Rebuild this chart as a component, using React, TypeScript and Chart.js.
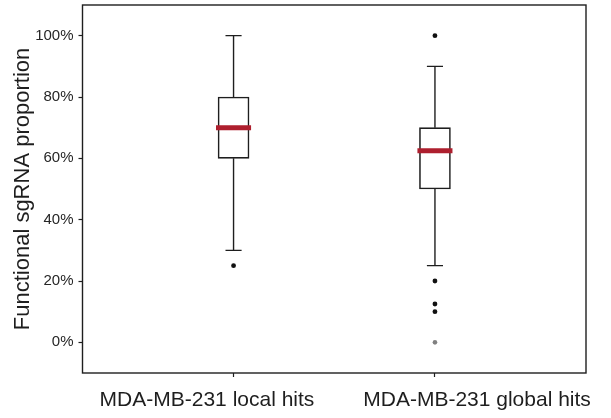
import { useEffect, useRef } from 'react';
import { Chart, registerables } from 'chart.js';

Chart.register(...registerables);

const categories = ['MDA-MB-231 local hits', 'MDA-MB-231 global hits'];
const positions = [1, 2];
const whiskerLow = [30, 25];
const q1 = [60, 50];
const median = [70, 62.5];
const q3 = [80, 70];
const whiskerHigh = [100, 90];
const outliers = [[25], [100, 20, 12.5, 10, 0]];
const faintOutliers = [[], [0]];
const yTicks = [0, 20, 40, 60, 80, 100];
const labelPositions = [0.868, 2.209];

const FONT = "'Liberation Sans', Arial, Helvetica, sans-serif";
const INK = '#1e1e1e';

const zeroPad = (s: any) => {
  s.paddingTop = 0;
  s.paddingBottom = 0;
  s.paddingLeft = 0;
  s.paddingRight = 0;
};

export default function App() {
  const ref = useRef<HTMLCanvasElement | null>(null);

  useEffect(() => {
    if (!ref.current) return;
    const capHalf = 0.04;
    const medHalf = 0.087;

    const whiskerData: any[] = [];
    const capData: any[] = [];
    const medianData: any[] = [];
    const outlierData: any[] = [];
    const faintData: any[] = [];
    positions.forEach((p, i) => {
      whiskerData.push({ x: p, y: q3[i] }, { x: p, y: whiskerHigh[i] }, { x: p, y: null });
      whiskerData.push({ x: p, y: q1[i] }, { x: p, y: whiskerLow[i] }, { x: p, y: null });
      capData.push({ x: p - capHalf, y: whiskerHigh[i] }, { x: p + capHalf, y: whiskerHigh[i] }, { x: p, y: null });
      capData.push({ x: p - capHalf, y: whiskerLow[i] }, { x: p + capHalf, y: whiskerLow[i] }, { x: p, y: null });
      medianData.push({ x: p - medHalf, y: median[i] }, { x: p + medHalf, y: median[i] }, { x: p, y: null });
      outliers[i].forEach((v) => {
        if (faintOutliers[i].includes(v)) faintData.push({ x: p, y: v });
        else outlierData.push({ x: p, y: v });
      });
    });

    const framePlugin = {
      id: 'frame',
      afterDatasetsDraw(chart: any) {
        const { ctx, chartArea } = chart;
        ctx.save();
        ctx.strokeStyle = INK;
        ctx.lineWidth = 1.4;
        ctx.strokeRect(chartArea.left, chartArea.top, chartArea.right - chartArea.left, chartArea.bottom - chartArea.top);
        ctx.restore();
      },
    };

    const chart = new Chart(ref.current, {
      type: 'scatter',
      data: {
        datasets: [
          {
            type: 'bar',
            data: positions.map((p, i) => ({ x: p, y: [q1[i], q3[i]] })) as any,
            backgroundColor: '#ffffff',
            borderColor: INK,
            borderWidth: 1.6,
            borderSkipped: false,
            barThickness: 31,
            order: 2,
          } as any,
          {
            type: 'line',
            data: whiskerData,
            borderColor: INK,
            borderWidth: 1.4,
            pointRadius: 0,
            spanGaps: false,
            showLine: true,
            tension: 0,
            order: 3,
          },
          {
            type: 'line',
            data: capData,
            borderColor: INK,
            borderWidth: 1.4,
            pointRadius: 0,
            spanGaps: false,
            showLine: true,
            tension: 0,
            order: 3,
          },
          {
            type: 'line',
            data: medianData,
            borderColor: '#AE1F2E',
            borderWidth: 5,
            borderCapStyle: 'butt',
            pointRadius: 0,
            spanGaps: false,
            showLine: true,
            tension: 0,
            order: 1,
          },
          {
            type: 'scatter',
            data: outlierData,
            backgroundColor: '#111111',
            borderColor: '#111111',
            pointRadius: 2.4,
            borderWidth: 0,
            order: 0,
          },
          {
            type: 'scatter',
            data: faintData,
            backgroundColor: '#808080',
            borderColor: '#808080',
            pointRadius: 2.3,
            borderWidth: 0,
            order: 0,
          },
        ],
      },
      options: {
        responsive: false,
        animation: false,
        devicePixelRatio: 1,
        layout: { padding: { top: 5, right: 25, left: 0, bottom: 0 } },
        plugins: { legend: { display: false }, tooltip: { enabled: false } },
        scales: {
          x: {
            type: 'linear',
            position: 'bottom',
            offset: false,
            min: 0.25,
            max: 2.75,
            afterBuildTicks: (s: any) => {
              s.ticks = positions.map((v) => ({ value: v }));
            },
            afterFit: (s: any) => {
              s.height = 5;
              zeroPad(s);
            },
            ticks: { display: false },
            grid: { offset: false, drawOnChartArea: false, drawTicks: true, tickLength: 4, color: INK, tickWidth: 1.2 },
            border: { display: false },
          },
          x2: {
            type: 'linear',
            position: 'bottom',
            offset: false,
            min: 0.25,
            max: 2.75,
            afterBuildTicks: (s: any) => {
              s.ticks = labelPositions.map((v) => ({ value: v }));
            },
            afterFit: (s: any) => {
              s.height = 40;
              zeroPad(s);
            },
            ticks: {
              autoSkip: false,
              maxRotation: 0,
              padding: 10,
              color: INK,
              font: { family: FONT, size: 21 },
              callback: (_v: any, i: number) => categories[i],
            },
            grid: { display: false, drawTicks: false, offset: false },
            border: { display: false },
          },
          y: {
            type: 'linear',
            min: -10,
            max: 110,
            afterBuildTicks: (s: any) => {
              s.ticks = yTicks.map((v) => ({ value: v }));
            },
            afterFit: (s: any) => {
              s.width = 82.5;
              zeroPad(s);
            },
            ticks: {
              padding: 5,
              color: '#262626',
              font: { family: FONT, size: 15 },
              callback: (v: any) => v + '%',
            },
            grid: { drawOnChartArea: false, drawTicks: true, tickLength: 4, color: INK, tickWidth: 1.2 },
            border: { display: false },
            title: {
              display: true,
              text: 'Functional sgRNA proportion',
              color: INK,
              font: { family: FONT, size: 22 },
              padding: { top: 10, bottom: 0 },
            },
          },
        },
      },
      plugins: [framePlugin],
    } as any);

    return () => chart.destroy();
  }, []);

  return (
    <div style={{ position: 'absolute', left: 0, top: 0, width: 611, height: 418, background: '#fff' }}>
      <canvas ref={ref} width={611} height={418} style={{ width: 611, height: 418 }} />
    </div>
  );
}
